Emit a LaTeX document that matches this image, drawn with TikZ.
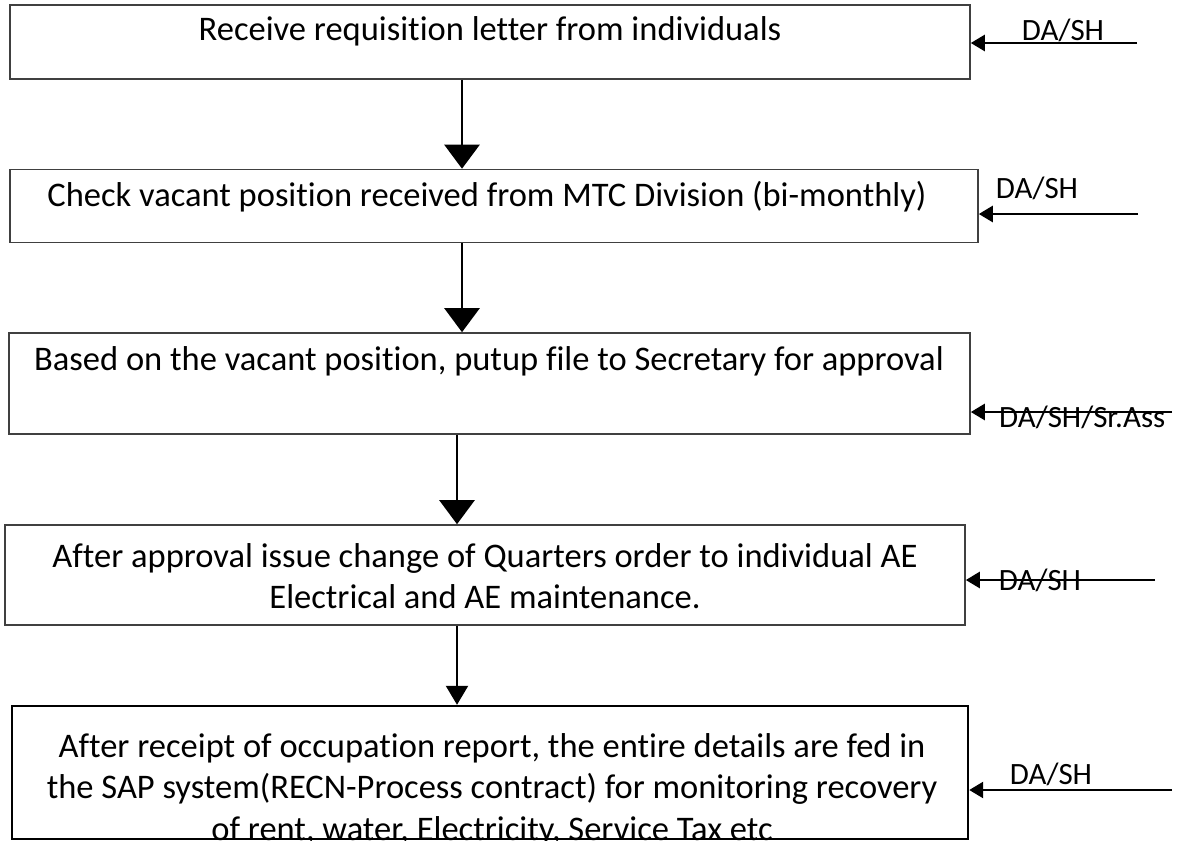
\documentclass[tikz,border=0pt]{standalone}
\usepackage{fontspec}
\setmainfont[Ligatures=NoCommon]{Carlito}
\usetikzlibrary{arrows.meta}
\tikzset{
  stepbox/.style={draw=black!75, line width=1.6pt, rectangle, inner sep=0pt},
  lastbox/.style={draw=black, line width=2.4pt, rectangle, inner sep=0pt},
  steptext/.style={inner sep=0pt, align=center, font=\fontsize{34.5}{41.5}\selectfont},
  roletext/.style={inner sep=0pt, font=\fontsize{31}{36}\selectfont},
  flow/.style={draw=black, line width=2.6pt, -{Triangle[width=35pt,length=24pt]}},
  flowsmall/.style={draw=black, line width=2.2pt, -{Triangle[width=22pt,length=19pt]}},
  role/.style={draw=black, line width=2.6pt, -{Triangle[width=16pt,length=14pt]}}
}
\begin{document}
\begin{tikzpicture}[x=1pt,y=-1pt]
\useasboundingbox (0,0) rectangle (1185,841);

% process boxes
\node[stepbox, minimum width=960pt, minimum height=74pt] (b1) at (490,42) {};
\node[stepbox, minimum width=968pt, minimum height=73pt] (b2) at (494,206) {};
\node[stepbox, minimum width=961pt, minimum height=101pt] (b3) at (489.5,383.5) {};
\node[stepbox, minimum width=960pt, minimum height=100pt] (b4) at (485,575) {};
\node[lastbox, minimum width=956pt, minimum height=133pt] (b5) at (490,772.5) {};

% box texts
\node[steptext] (t1) at (490,31) {Receive requisition letter from individuals};
\node[steptext] (t2) at (487,197) {Check vacant position received from MTC Division (bi-monthly)};
\node[steptext] (t3) at (489,361) {Based on the vacant position, putup file to Secretary for approval};
\node[steptext] (t4) at (485,576) {After approval issue change of Quarters order to individual AE\\Electrical and AE maintenance.};
\begin{scope}
  \clip (b5.north west) rectangle (b5.south east);
  \node[steptext, anchor=north] (t5) at (492,733) {After receipt of occupation report, the entire details are fed in\\the SAP system(RECN-Process contract) for monitoring recovery\\of rent, water, Electricity, Service Tax etc};
\end{scope}

% flow between steps
\draw[flow] (462,0 |- b1.south) -- (462,0 |- b2.north);
\draw[flow] (462,0 |- b2.south) -- (462,0 |- b3.north);
\draw[flow] (457,0 |- b3.south) -- (457,0 |- b4.north);
\draw[flowsmall] (457,0 |- b4.south) -- (457,0 |- b5.north);

% responsible roles
\coordinate (r1) at (1137,43);
\coordinate (r2) at (1138,214);
\coordinate (r3) at (1172,412);
\coordinate (r4) at (1155,580);
\coordinate (r5) at (1172,790);
\draw[role] (r1) -- (r1 -| b1.east);
\draw[role] (r2) -- (r2 -| b2.east);
\draw[role] (r3) -- (r3 -| b3.east);
\draw[role] (r4) -- (r4 -| b4.east);
\draw[role] (r5) -- (r5 -| b5.east);
\node[roletext] (l1) at (1063,30) {DA/SH};
\node[roletext] (l2) at (1037,188) {DA/SH};
\node[roletext, anchor=west] (l3) at (999,417) {DA/SH/Sr.Ass};
\node[roletext] (l4) at (1040,580) {DA/SH};
\node[roletext] (l5) at (1051,774) {DA/SH};
\end{tikzpicture}
\end{document}
